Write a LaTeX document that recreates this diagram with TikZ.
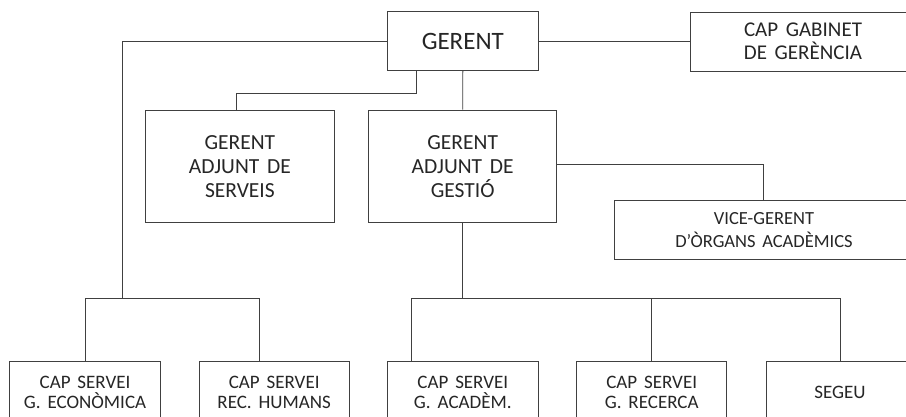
\documentclass[tikz,border=0pt]{standalone}
\usepackage{fontspec}
\setmainfont{Carlito}[WordSpace=1.6]
\begin{document}
\begin{tikzpicture}[x=1pt,y=-1pt,
  box/.style={draw=black!75, line width=0.9pt, align=center, inner sep=0pt, text=black!85},
  conn/.style={draw=black!75, line width=0.9pt},
  big/.style={font=\fontsize{25}{28}\selectfont},
  mid/.style={font=\fontsize{21.5}{24}\selectfont},
  cabf/.style={font=\fontsize{21}{23}\selectfont},
  vicef/.style={font=\fontsize{18.5}{22.5}\selectfont},
  small/.style={font=\fontsize{19}{19.5}\selectfont},
  bot/.style={box, small, minimum height=63pt}]
\clip (0,0) rectangle (906,417);
\fill[white] (0,0) rectangle (906,417);
% top level
\node[box, big, minimum width=151pt, minimum height=59pt] (g) at (462.8,41.2) {GERENT};
\node[box, cabf, minimum width=226pt, minimum height=59pt] (cab) at (803,41.5) {CAP GABINET\\DE GERÈNCIA};
% second level
\node[box, mid, minimum width=188.3pt, minimum height=112.3pt] (srv) at (239.9,166.2) {GERENT\\ADJUNT DE\\SERVEIS};
\node[box, mid, minimum width=188pt, minimum height=112.3pt] (ges) at (462.7,166.2) {GERENT\\ADJUNT DE\\GESTIÓ};
\node[box, vicef, minimum width=300pt, minimum height=59.3pt] (vice) at (764,230.3) {VICE-GERENT\\D’ÒRGANS ACADÈMICS};
% bottom level
\node[bot, minimum width=151.4pt] (b1) at (85,392.5) {CAP SERVEI\\G. ECONÒMICA};
\node[bot, minimum width=150.3pt] (b2) at (274.2,392.5) {CAP SERVEI\\REC. HUMANS};
\node[bot, minimum width=151pt] (b3) at (462.8,392.5) {CAP SERVEI\\G. ACADÈM.};
\node[bot, minimum width=150pt] (b4) at (651.7,392.5) {CAP SERVEI\\G. RECERCA};
\node[bot, minimum width=148pt] (b5) at (840,392.5) {SEGEU};
% junction coordinates
\coordinate (jl) at (122.7,298.3);
\coordinate (b2t) at (259,361);
\coordinate (gl) at (416.7,93.3);
\coordinate (st) at (236.5,110);
\coordinate (vt) at (763.3,164);
\coordinate (jr) at (462.7,298.3);
\coordinate (b3t) at (411.3,361);
% connectors
\draw[conn] (g.west) -| (jl);
\draw[conn] (b1.north) |- (b2t |- jl) -- (b2t);
\draw[conn] (g.east) -- (g.east -| cab.west);
\draw[conn] (gl |- g.south) -- (gl) -| (st);
\draw[conn] (g.south) -- (ges.north);
\draw[conn] (ges.east |- vt) -- (vt) -- (vt |- vice.north);
\draw[conn] (ges.south) -- (ges.south |- jr);
\draw[conn] (b3t) |- (b5.north |- jr) -- (b5.north);
\draw[conn] (b4.north) -- (b4.north |- jr);
\end{tikzpicture}
\end{document}
